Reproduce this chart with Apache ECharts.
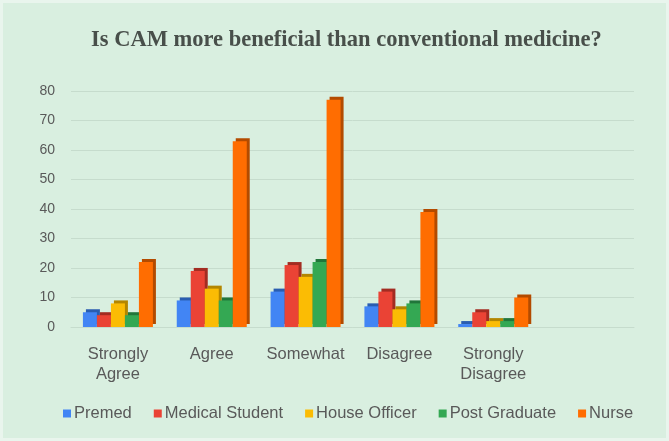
<!DOCTYPE html>
<html>
<head>
<meta charset="utf-8">
<script src="https://cdn.jsdelivr.net/npm/echarts@6/dist/echarts.min.js"></script>
<style>
html,body{margin:0;padding:0;background:#e9f5ed;}
#chart{position:absolute;left:3px;top:3px;width:663px;height:435px;background:#d9efe0;}
</style>
</head>
<body>
<div id="chart"></div>
<script>
var categories = ['Strongly\nAgree', 'Agree', 'Somewhat', 'Disagree', 'Strongly\nDisagree', ''];
var seriesNames = ['Premed', 'Medical Student', 'House Officer', 'Post Graduate', 'Nurse'];
var premed = [5, 9, 12, 7, 1];
var medicalStudent = [4, 19, 21, 12, 5];
var houseOfficer = [8, 13, 17, 6, 2];
var postGraduate = [4, 9, 22, 8, 2];
var nurse = [22, 63, 77, 39, 10];
var yTicks = [0, 10, 20, 30, 40, 50, 60, 70, 80];

var colors = ['#4285F4', '#EA4335', '#FBBC04', '#34A853', '#FF6D01'];
var shades = ['#2a5db0', '#a32c22', '#b38600', '#21763a', '#b34b00'];
var values = [premed, medicalStudent, houseOfficer, postGraduate, nurse];

var chart = echarts.init(document.getElementById('chart'), null, {renderer: 'canvas'});
var series = seriesNames.map(function (name, i) {
  return {
    name: name,
    type: 'bar',
    data: values[i],
    barWidth: 14,
    barGap: '0%',
    itemStyle: {
      color: colors[i],
      shadowColor: shades[i],
      shadowOffsetX: 3,
      shadowOffsetY: -3,
      shadowBlur: 0
    }
  };
});

chart.setOption({
  animation: false,
  title: {
    text: 'Is CAM more beneficial than conventional medicine?',
    left: 83,
    top: 21,
    textStyle: {
      fontFamily: 'Liberation Serif',
      fontWeight: 'bold',
      fontSize: 22.5,
      color: '#484f4a'
    }
  },
  legend: {
    bottom: 11,
    left: 55,
    itemWidth: 8,
    itemHeight: 8,
    itemGap: 22,
    icon: 'rect',
    textStyle: {fontFamily: 'Liberation Sans', fontSize: 16.5, color: '#595959', padding: [0, 0, 0, -2]},
    data: seriesNames
  },
  grid: {left: 68, right: 32, top: 88, bottom: 111, containLabel: false},
  xAxis: {
    type: 'category',
    data: categories,
    axisTick: {show: false},
    axisLine: {show: true, lineStyle: {color: '#c6dccd'}},
    axisLabel: {
      fontFamily: 'Liberation Sans',
      fontSize: 16.5,
      color: '#595959',
      margin: 17,
      lineHeight: 20,
      interval: 0
    }
  },
  yAxis: {
    type: 'value',
    min: 0,
    max: 80,
    interval: 10,
    axisLine: {show: false},
    axisTick: {show: false},
    splitLine: {lineStyle: {color: '#c6dccd'}},
    axisLabel: {
      fontFamily: 'Liberation Sans',
      fontSize: 14,
      color: '#595959',
      margin: 16,
      formatter: function (v) { return yTicks.indexOf(v) >= 0 ? String(v) : ''; }
    }
  },
  series: series
});
</script>
</body>
</html>
